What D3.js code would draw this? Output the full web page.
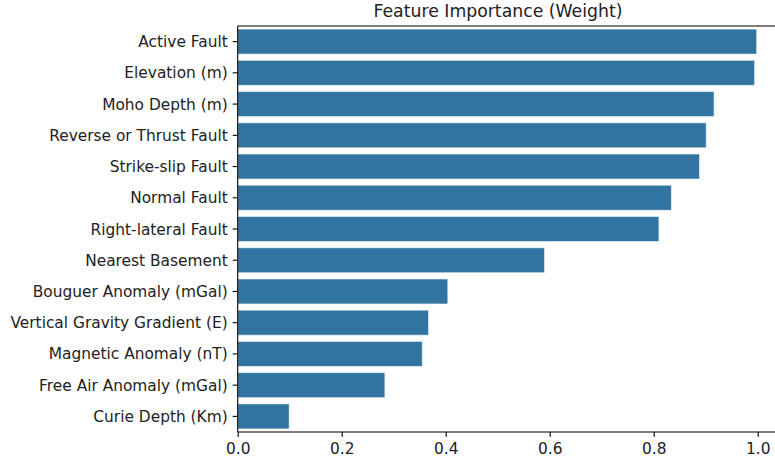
<!DOCTYPE html>
<html><head><meta charset="utf-8">
<script src="https://cdn.jsdelivr.net/npm/d3@7"></script>
<style>body{margin:0;background:#fff;} svg{display:block;}</style>
</head><body>
<svg id="chart" width="775" height="464"></svg>
<script>
const categories = ["Active Fault","Elevation (m)","Moho Depth (m)","Reverse or Thrust Fault","Strike-slip Fault","Normal Fault","Right-lateral Fault","Nearest Basement","Bouguer Anomaly (mGal)","Vertical Gravity Gradient (E)","Magnetic Anomaly (nT)","Free Air Anomaly (mGal)","Curie Depth (Km)"];
const values = [0.998, 0.994, 0.916, 0.901, 0.888, 0.834, 0.810, 0.590, 0.404, 0.367, 0.355, 0.283, 0.099];
const xTicks = [0.0, 0.2, 0.4, 0.6, 0.8, 1.0];
const title = "Feature Importance (Weight)";

const svg = d3.select("#chart");
const m = {left: 237.7, top: 26, bottom: 432, right: 783.7};
const x = d3.scaleLinear().domain([0, 1.05]).range([m.left, m.right]);
const y = d3.scaleBand().domain(categories).range([m.top, m.bottom]).paddingInner(0.2).paddingOuter(0.1);
const font = "'DejaVu Sans', sans-serif";
const data = categories.map((c, i) => ({c, v: values[i]}));

svg.append("g").selectAll("rect").data(data).join("rect")
  .attr("x", x(0)).attr("y", d => y(d.c))
  .attr("width", d => x(d.v) - x(0)).attr("height", y.bandwidth())
  .attr("fill", "#3274a1").attr("stroke", "#ffffff").attr("stroke-opacity", 0.55).attr("stroke-width", 1);

// x axis
const xa = svg.append("g").attr("transform", `translate(0,${m.bottom})`)
  .call(d3.axisBottom(x).tickValues(xTicks).tickFormat(d3.format(".1f")).tickSize(5).tickPadding(6));
xa.select(".domain").remove();
xa.selectAll("line").attr("stroke", "#000").attr("stroke-width", 1.1);
xa.selectAll("text").attr("font-family", font).attr("font-size", 15.4).attr("fill", "#222");

// y axis
const ya = svg.append("g").attr("transform", `translate(${m.left},0)`)
  .call(d3.axisLeft(y).tickSize(5).tickPadding(5));
ya.select(".domain").remove();
ya.selectAll("line").attr("stroke", "#000").attr("stroke-width", 1.1);
ya.selectAll("text").attr("font-family", font).attr("font-size", 15.4).attr("fill", "#222").attr("dy", "0.36em");

// spines
svg.append("line").attr("x1", m.left).attr("x2", m.left).attr("y1", m.top).attr("y2", m.bottom).attr("stroke", "#000").attr("stroke-width", 1.1);
svg.append("line").attr("x1", m.left).attr("x2", m.right).attr("y1", m.bottom).attr("y2", m.bottom).attr("stroke", "#000").attr("stroke-width", 1.1);
svg.append("line").attr("x1", m.left).attr("x2", m.right).attr("y1", m.top).attr("y2", m.top).attr("stroke", "#000").attr("stroke-width", 1.1);
svg.append("line").attr("x1", m.right).attr("x2", m.right).attr("y1", m.top).attr("y2", m.bottom).attr("stroke", "#000").attr("stroke-width", 1.1);

svg.append("text").attr("x", 498).attr("y", 17).attr("text-anchor", "middle")
  .attr("font-family", font).attr("font-size", 17.3).attr("fill", "#222").text(title);
</script>
</body></html>
